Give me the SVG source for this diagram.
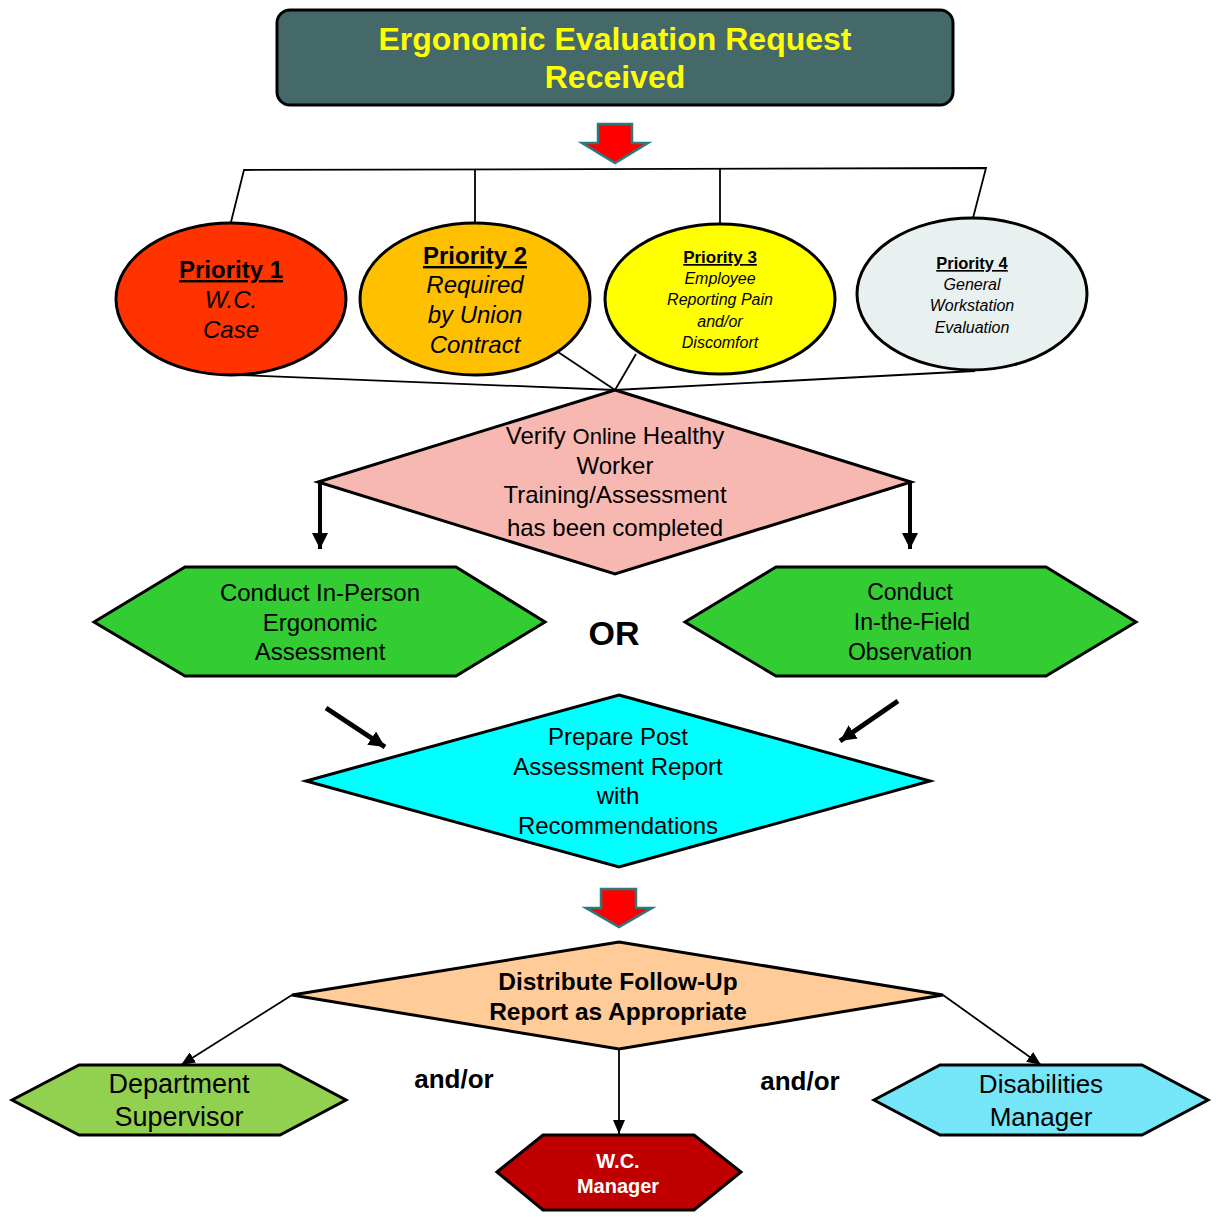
<svg xmlns="http://www.w3.org/2000/svg" width="1216" height="1217" viewBox="0 0 1216 1217">
<defs>
<style>
text{font-family:"Liberation Sans",Arial,sans-serif;text-anchor:middle;fill:#000}
.b{font-weight:bold}
.i{font-style:italic}
.u{text-decoration:underline}
.shape{stroke:#000;stroke-width:3}
.thin{stroke:#000;stroke-width:1.8;fill:none}
.blk{fill:#FF0000;stroke:#2A7A80;stroke-width:2.5;stroke-linejoin:miter}
</style>
<marker id="ah" markerUnits="userSpaceOnUse" markerWidth="16" markerHeight="18" refX="16" refY="8" orient="auto">
<path d="M0,0 L16,8 L0,16 Z" fill="#000"/>
</marker>
<marker id="as" markerUnits="userSpaceOnUse" markerWidth="14" markerHeight="12" refX="14" refY="6" orient="auto">
<path d="M0,0 L14,6 L0,12 Z" fill="#000"/>
</marker>
</defs>
<rect width="1216" height="1217" fill="#fff"/>

<g id="title">
<rect x="277" y="10" width="676" height="95" rx="13" fill="#456868" class="shape" stroke-width="2.5"/>
<text x="615" y="50" class="b" font-size="32" style="fill:#FFFF00">Ergonomic Evaluation Request</text>
<text x="615" y="88" class="b" font-size="32" style="fill:#FFFF00">Received</text>
</g>

<g id="connectors">
<polygon class="blk" points="598,124 632,124 632,143 648,143 615,163 582,143 598,143"/>
<polyline class="thin" points="231,222 244,170 986,168 973,218"/>
<line class="thin" x1="475" y1="170" x2="475" y2="223"/>
<line class="thin" x1="720" y1="169" x2="720" y2="223"/>
<line class="thin" x1="240" y1="375" x2="615" y2="390"/>
<line class="thin" x1="558" y1="352" x2="615" y2="390"/>
<line class="thin" x1="636" y1="354" x2="615" y2="390"/>
<line class="thin" x1="975" y1="371" x2="615" y2="390"/>
<line x1="320" y1="482" x2="320" y2="549" stroke="#000" stroke-width="4" marker-end="url(#ah)"/>
<line x1="910" y1="482" x2="910" y2="549" stroke="#000" stroke-width="4" marker-end="url(#ah)"/>
<line x1="326" y1="708" x2="385" y2="747" stroke="#000" stroke-width="5" marker-end="url(#ah)"/>
<line x1="898" y1="701" x2="840" y2="741" stroke="#000" stroke-width="5" marker-end="url(#ah)"/>
<polygon class="blk" points="601,889 636,889 636,908 652,908 619,927 586,908 601,908"/>
<line class="thin" x1="292" y1="995" x2="181" y2="1065" stroke-width="2" marker-end="url(#as)"/>
<line class="thin" x1="619" y1="1049" x2="619" y2="1134" stroke-width="2" marker-end="url(#as)"/>
<line class="thin" x1="943" y1="995" x2="1041" y2="1065" stroke-width="2" marker-end="url(#as)"/>
</g>

<g id="p1">
<ellipse cx="231" cy="299" rx="115" ry="76" fill="#FF3300" class="shape" stroke-width="3.5"/>
<text x="231" y="278" class="b u" font-size="24">Priority 1</text>
<text x="231" y="308" class="i" font-size="24">W.C.</text>
<text x="231" y="338" class="i" font-size="24">Case</text>
</g>
<g id="p2">
<ellipse cx="475" cy="299" rx="115" ry="76" fill="#FFC000" class="shape" stroke-width="3.5"/>
<text x="475" y="264" class="b u" font-size="24">Priority 2</text>
<text x="475" y="293" class="i" font-size="24">Required</text>
<text x="475" y="323" class="i" font-size="24">by Union</text>
<text x="475" y="353" class="i" font-size="24">Contract</text>
</g>
<g id="p3">
<ellipse cx="720" cy="299" rx="115" ry="75" fill="#FFFF00" class="shape" stroke-width="3.5"/>
<text x="720" y="263" class="b u" font-size="17">Priority 3</text>
<text x="720" y="284" class="i" font-size="16">Employee</text>
<text x="720" y="305" class="i" font-size="16">Reporting Pain</text>
<text x="720" y="327" class="i" font-size="16">and/or</text>
<text x="720" y="348" class="i" font-size="16">Discomfort</text>
</g>
<g id="p4">
<ellipse cx="972" cy="294" rx="115" ry="76" fill="#E8F0F0" class="shape" stroke-width="3.5"/>
<text x="972" y="269" class="b u" font-size="16.5">Priority 4</text>
<text x="972" y="290" class="i" font-size="16">General</text>
<text x="972" y="311" class="i" font-size="16">Workstation</text>
<text x="972" y="333" class="i" font-size="16">Evaluation</text>
</g>

<g id="verify">
<polygon points="615,390 911,482 615,574 318,482" fill="#F8B8B2" class="shape" stroke-width="2.5"/>
<text x="615" y="444" font-size="24">Verify <tspan font-size="22">Online</tspan> Healthy</text>
<text x="615" y="474" font-size="24">Worker</text>
<text x="615" y="503" font-size="24">Training/Assessment</text>
<text x="615" y="536" font-size="24">has been completed</text>
</g>

<g id="inperson">
<polygon points="94,622 185,567 456,567 545,622 456,676 185,676" fill="#33CC33" class="shape" stroke-width="2.5"/>
<text x="320" y="601" font-size="24">Conduct In-Person</text>
<text x="320" y="631" font-size="24">Ergonomic</text>
<text x="320" y="660" font-size="24">Assessment</text>
</g>

<g id="or">
<text x="614" y="645" class="b" font-size="34">OR</text>
</g>

<g id="field">
<polygon points="685,622 776,567 1046,567 1136,622 1046,676 776,676" fill="#33CC33" class="shape" stroke-width="2.5"/>
<text x="910" y="600" font-size="23">Conduct</text>
<text x="912" y="630" font-size="23">In-the-Field</text>
<text x="910" y="660" font-size="23">Observation</text>
</g>

<g id="report">
<polygon points="619,695 930,781 619,867 306,781" fill="#00FFFF" class="shape" stroke-width="2.5"/>
<text x="618" y="745" font-size="24">Prepare Post</text>
<text x="618" y="775" font-size="24">Assessment Report</text>
<text x="618" y="804" font-size="24">with</text>
<text x="618" y="834" font-size="24">Recommendations</text>
</g>

<g id="distribute">
<polygon points="619,942 943,995 619,1049 292,995" fill="#FFCC99" class="shape" stroke-width="2.5"/>
<text x="618" y="990" class="b" font-size="24.5">Distribute Follow-Up</text>
<text x="618" y="1020" class="b" font-size="24.5">Report as Appropriate</text>
</g>

<g id="andor1">
<text x="454" y="1088" class="b" font-size="26">and/or</text>
</g>
<g id="andor2">
<text x="800" y="1090" class="b" font-size="26">and/or</text>
</g>

<g id="supervisor">
<polygon points="12,1100 79,1065 280,1065 346,1100 280,1135 79,1135" fill="#92D050" class="shape" stroke-width="2.5"/>
<text x="179" y="1093" font-size="27">Department</text>
<text x="179" y="1126" font-size="27">Supervisor</text>
</g>

<g id="wcmanager">
<polygon points="497,1172 543,1135 694,1135 741,1172 694,1210 543,1210" fill="#C00000" class="shape" stroke-width="2.5"/>
<text x="618" y="1168" class="b" font-size="20" style="fill:#fff">W.C.</text>
<text x="618" y="1193" class="b" font-size="20" style="fill:#fff">Manager</text>
</g>

<g id="disabilities">
<polygon points="874,1100 940,1065 1142,1065 1208,1100 1142,1135 940,1135" fill="#75E6F8" class="shape" stroke-width="2.5"/>
<text x="1041" y="1093" font-size="26">Disabilities</text>
<text x="1041" y="1126" font-size="26">Manager</text>
</g>
</svg>
